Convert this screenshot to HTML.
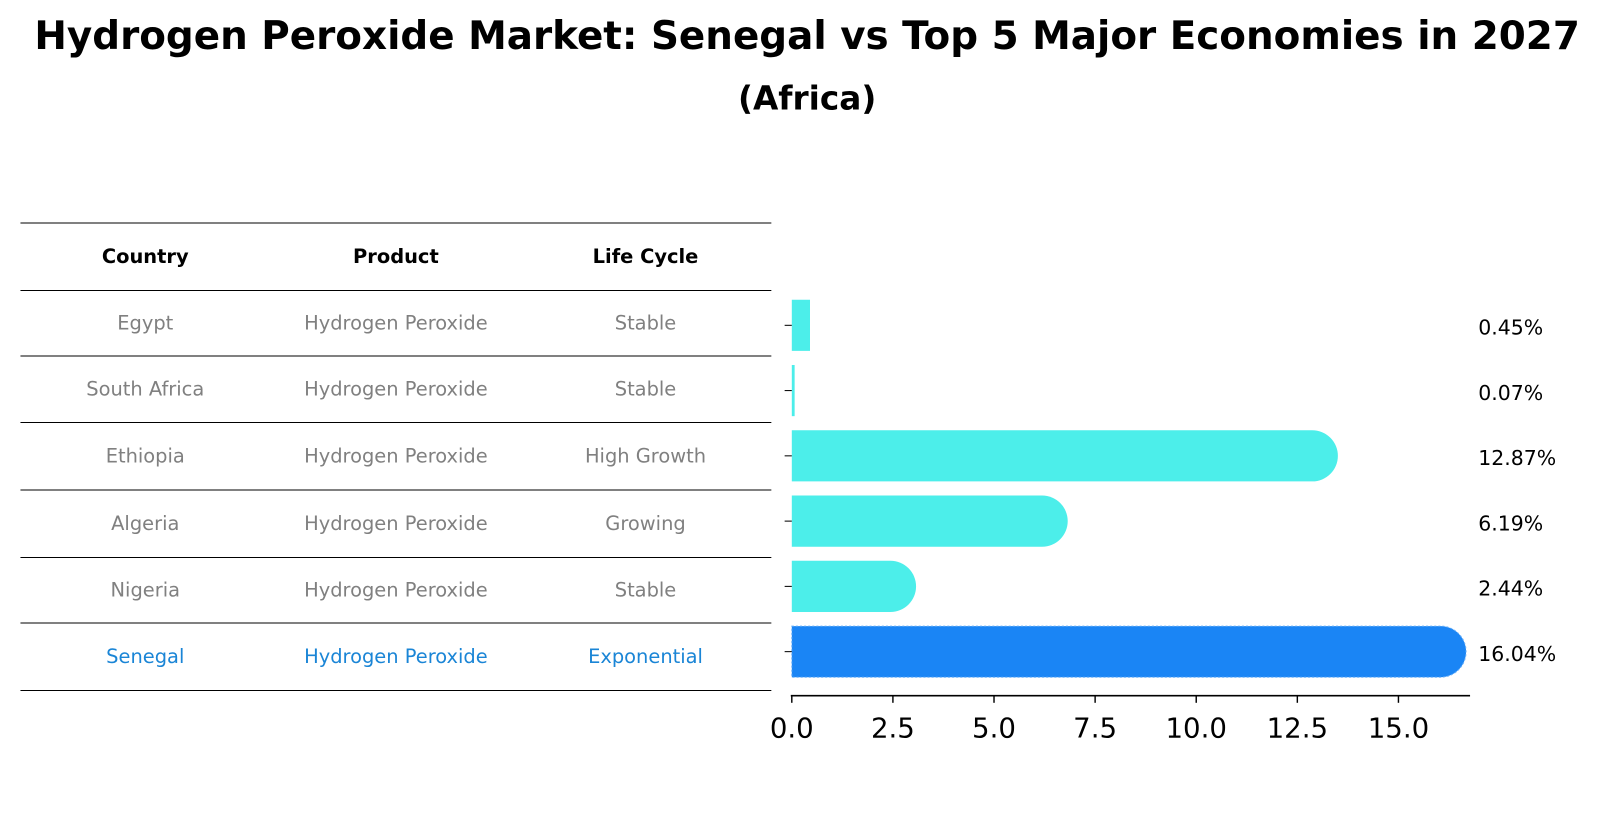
<!DOCTYPE html>
<html><head><meta charset="utf-8"><style>
body{margin:0;background:#fff;font-family:"Liberation Sans","DejaVu Sans",sans-serif}
svg text{font-family:"DejaVu Sans","Liberation Sans",sans-serif}
</style></head><body>
<svg width="1604" height="823" xmlns="http://www.w3.org/2000/svg" id="chart">
<g transform="scale(1.023)">
<text x="789" y="48" text-anchor="middle" font-size="38" font-weight="bold">Hydrogen Peroxide Market: Senegal vs Top 5 Major Economies in 2027</text>
<text x="789" y="107" text-anchor="middle" font-size="32" font-weight="bold">(Africa)</text>
<g id="table"></g>
<g id="bars"></g>
</g>
</svg>
<script>
const countries=["Egypt","South Africa","Ethiopia","Algeria","Nigeria","Senegal"];
const products=["Hydrogen Peroxide","Hydrogen Peroxide","Hydrogen Peroxide","Hydrogen Peroxide","Hydrogen Peroxide","Hydrogen Peroxide"];
const lifecycles=["Stable","Stable","High Growth","Growing","Stable","Exponential"];
const values=[0.45,0.07,12.87,6.19,2.44,16.04];
const valueLabels=["0.45%","0.07%","12.87%","6.19%","2.44%","16.04%"];
const ticks=[0,2.5,5,7.5,10,12.5,15];
const tickLabels=["0.0","2.5","5.0","7.5","10.0","12.5","15.0"];
const NS="http://www.w3.org/2000/svg";
function mk(t,a,p){const e=document.createElementNS(NS,t);for(const k in a)e.setAttribute(k,a[k]);p.appendChild(e);return e;}
const x=v=>774+v*(1367-774)/15;
const rowY=i=>318+i*63.8;
const tb=document.getElementById('table'),bg=document.getElementById('bars');
const lineYs=[218,284,348,413,479,545,609,675];
lineYs.forEach(y=>{const l=mk('line',{x1:20,x2:754,y1:y,y2:y,stroke:'#000','stroke-width':1},tb);

});
const cx=[142,387,631];
["Country","Product","Life Cycle"].forEach((h,j)=>{const t=mk('text',{x:cx[j],y:257,'text-anchor':'middle','font-size':19,'font-weight':'bold'},tb);t.textContent=h;

});
countries.forEach((c,i)=>{const y=(lineYs[i+1]+lineYs[i+2])/2+6;const col=i==5?'#1a85d6':'#808080';
[c,products[i],lifecycles[i]].forEach((s,j)=>{const t=mk('text',{x:cx[j],y:y,'text-anchor':'middle','font-size':19,fill:col},tb);t.textContent=s;

});
const h=50,yc=rowY(i),col2=i==5?'#1a85f5':'#4ceeea';
const w=x(values[i])-x(0);
const r=values[i]>1?h/2:0;
const p=mk('path',{d:r?`M${x(0)},${yc-h/2} h${w} a${r},${r} 0 0 1 0,${h} h${-w} Z`:`M${x(0)},${yc-h/2} h${w} v${h} h${-w} Z`,fill:col2},bg);
if(i==5){p.setAttribute('stroke','#6ab0f8');p.setAttribute('stroke-dasharray','2,2');p.setAttribute('stroke-width','1');}


const lt=mk('line',{x1:767,x2:774,y1:yc,y2:yc,stroke:'#000'},bg);


const vl=mk('text',{x:1445,y:yc+9,'font-size':20},bg);vl.textContent=valueLabels[i];

});
const ax=mk('line',{x1:773,x2:1437,y1:680,y2:680,stroke:'#000','stroke-width':1.6},bg);


ticks.forEach((t,i)=>{const l=mk('line',{x1:x(t),x2:x(t),y1:680,y2:687,stroke:'#000','stroke-width':1.4},bg);


const tx=mk('text',{x:x(t),y:721,'text-anchor':'middle','font-size':27},bg);tx.textContent=tickLabels[i];

});
</script>
</body></html>
